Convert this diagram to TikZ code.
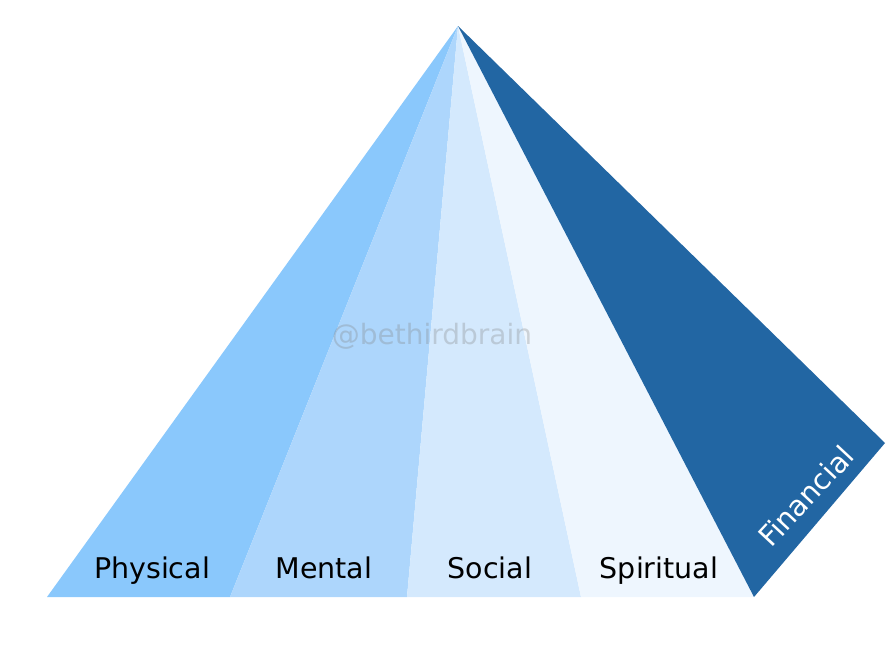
\documentclass[tikz,border=0pt]{standalone}
\usepackage{fontspec}
\setmainfont{DejaVu Sans}
\begin{document}
\begin{tikzpicture}[x=1pt,y=-1pt,
  lbl/.style={font=\fontsize{28.5}{30}\selectfont, text=black, anchor=base, inner sep=0pt},
  face/.style={draw=none}]
\definecolor{cphys}{HTML}{8AC8FC}
\definecolor{cment}{HTML}{ADD6FC}
\definecolor{csoc}{HTML}{D4E9FD}
\definecolor{cspir}{HTML}{EEF6FE}
\definecolor{cfin}{HTML}{2266A3}
\useasboundingbox (0,0) rectangle (896,659);
\coordinate (apex) at (458,26);
\coordinate (b0) at (47,597);
\coordinate (b1) at (230,597);
\coordinate (b2) at (407,597);
\coordinate (b3) at (581,597);
\coordinate (b4) at (754,597);
\coordinate (b5) at (885,443);
\fill[cphys] (apex) -- (b0) -- (b1) -- cycle;
\fill[cment] (apex) -- (b1) -- (b2) -- cycle;
\fill[csoc] (apex) -- (b2) -- (b3) -- cycle;
\fill[cspir] (apex) -- (b3) -- (b4) -- cycle;
\fill[cfin] (apex) -- (b4) -- (b5) -- cycle;
\node[font=\fontsize{28}{30}\selectfont, text=gray, opacity=0.3, inner sep=0pt] (wm) at (432,336) {@bethirdbrain};
\node[lbl] (phys) at (152,578) {Physical};
\node[lbl] (ment) at (324,578) {Mental};
\node[lbl] (soc) at (490,578) {Social};
\node[lbl] (spir) at (659,578) {Spiritual};
\node[lbl, text=white, anchor=center, rotate=47] (fin) at (806,496) {Financial};
\end{tikzpicture}
\end{document}
